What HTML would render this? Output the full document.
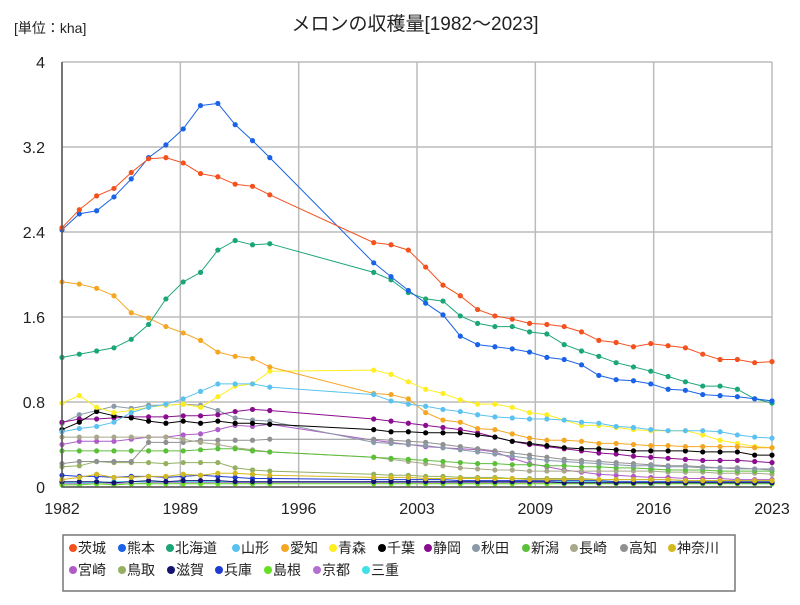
<!DOCTYPE html>
<html><head><meta charset="utf-8">
<style>
body{margin:0;background:#fff;}
svg text{font-family:"Liberation Sans","Noto Sans CJK JP",sans-serif;}
</style></head>
<body>
<svg id="chart" width="800" height="600" xmlns="http://www.w3.org/2000/svg">
<text x="14" y="33" font-size="14" fill="#222">[単位：kha]</text>
<text x="415" y="30" font-size="19" fill="#222" text-anchor="middle">メロンの収穫量[1982～2023]</text>
<g id="grid"></g><g id="series"></g><g id="axes"></g>
<rect x="63" y="535" width="672" height="56" fill="#fff" stroke="#777" stroke-width="1.5"/>
<g id="legend"></g>
</svg>
<script>
const years=[1982,1983,1984,1985,1986,1987,1988,1989,1990,1991,1992,1993,1994,2000,2001,2002,2003,2004,2005,2006,2007,2008,2009,2010,2011,2012,2013,2014,2015,2016,2017,2018,2019,2020,2021,2022,2023];
const yTicks=[0,0.8,1.6,2.4,3.2,4];
const yTickLabels=["0","0.8","1.6","2.4","3.2","4"];
const xTickLabels=["1982","1989","1996","2003","2009","2016","2023"];
const names=["茨城","熊本","北海道","山形","愛知","青森","千葉","静岡","秋田","新潟","長崎","高知","神奈川","宮崎","鳥取","滋賀","兵庫","島根","京都","三重"];
const colors=["#f4511e","#1a62e8","#1aa679","#5bc2f0","#f5a623","#ffee22","#000000","#8b0d8f","#8a9aa8","#5cbf3a","#a8a88a","#909090","#d4b820","#b05cc8","#94b060","#141470","#1f3ad0","#66e022","#b470d0","#40e0e8"];
const ibaraki=[2.44,2.61,2.74,2.81,2.96,3.09,3.10,3.05,2.95,2.92,2.85,2.83,2.75,2.30,2.28,2.23,2.07,1.90,1.80,1.67,1.61,1.58,1.54,1.53,1.51,1.46,1.38,1.36,1.32,1.35,1.33,1.31,1.25,1.20,1.20,1.17,1.18];
const kumamoto=[2.42,2.57,2.60,2.73,2.90,3.10,3.22,3.37,3.59,3.61,3.41,3.26,3.10,2.11,1.98,1.85,1.73,1.62,1.42,1.34,1.32,1.30,1.27,1.22,1.20,1.15,1.05,1.01,1.00,0.97,0.92,0.91,0.87,0.86,0.85,0.83,0.81];
const hokkaido=[1.22,1.25,1.28,1.31,1.39,1.53,1.77,1.93,2.02,2.23,2.32,2.28,2.29,2.02,1.95,1.83,1.77,1.75,1.61,1.54,1.51,1.51,1.46,1.44,1.34,1.28,1.23,1.17,1.13,1.09,1.04,0.99,0.95,0.95,0.92,0.83,0.79];
const yamagata=[0.52,0.55,0.57,0.61,0.70,0.75,0.78,0.83,0.90,0.97,0.97,0.97,0.94,0.87,0.81,0.78,0.76,0.73,0.71,0.68,0.66,0.65,0.64,0.64,0.63,0.61,0.60,0.57,0.56,0.54,0.53,0.53,0.53,0.52,0.49,0.47,0.46];
const aichi=[1.93,1.91,1.87,1.80,1.64,1.59,1.51,1.45,1.38,1.27,1.23,1.21,1.13,0.88,0.87,0.83,0.70,0.63,0.61,0.55,0.54,0.50,0.46,0.44,0.44,0.43,0.41,0.41,0.40,0.39,0.39,0.38,0.38,0.38,0.38,0.37,0.37];
const aomori=[0.79,0.86,0.75,0.70,0.72,0.75,0.77,0.78,0.75,0.85,0.95,0.97,1.09,1.10,1.06,0.99,0.92,0.88,0.82,0.78,0.78,0.75,0.70,0.68,0.63,0.58,0.58,0.56,0.54,0.53,0.53,0.53,0.49,0.44,0.41,0.38,0.37];
const chiba=[0.54,0.61,0.71,0.67,0.65,0.62,0.60,0.62,0.60,0.62,0.60,0.60,0.59,0.54,0.52,0.52,0.51,0.51,0.51,0.49,0.47,0.43,0.41,0.39,0.37,0.36,0.36,0.35,0.34,0.34,0.34,0.34,0.33,0.33,0.33,0.30,0.30];
const shizuoka=[0.61,0.64,0.64,0.65,0.66,0.66,0.66,0.67,0.67,0.68,0.71,0.73,0.72,0.64,0.62,0.60,0.58,0.56,0.54,0.51,0.47,0.43,0.40,0.38,0.36,0.34,0.32,0.31,0.29,0.28,0.27,0.26,0.25,0.25,0.25,0.24,0.23];
const akita=[0.60,0.68,0.72,0.76,0.74,0.77,0.77,0.78,0.77,0.72,0.65,0.63,0.62,0.42,0.41,0.40,0.39,0.37,0.35,0.33,0.31,0.29,0.27,0.25,0.24,0.23,0.22,0.21,0.20,0.20,0.19,0.19,0.18,0.18,0.17,0.17,0.17];
const niigata=[0.34,0.34,0.34,0.34,0.34,0.34,0.34,0.34,0.35,0.36,0.36,0.34,0.33,0.28,0.27,0.26,0.25,0.24,0.23,0.22,0.22,0.21,0.21,0.20,0.20,0.19,0.19,0.18,0.18,0.17,0.16,0.16,0.16,0.15,0.15,0.15,0.15];
const nagasaki=[0.47,0.47,0.47,0.47,0.47,0.47,0.47,0.45,0.42,0.40,0.37,0.35,0.33,0.28,0.26,0.24,0.22,0.20,0.18,0.17,0.16,0.16,0.15,0.15,0.15,0.15,0.15,0.15,0.15,0.15,0.14,0.14,0.14,0.13,0.13,0.13,0.12];
const kochi=[0.22,0.24,0.24,0.24,0.24,0.42,0.42,0.42,0.44,0.44,0.44,0.44,0.45,0.45,0.44,0.43,0.42,0.40,0.38,0.36,0.34,0.32,0.30,0.28,0.26,0.25,0.24,0.23,0.22,0.21,0.20,0.20,0.19,0.18,0.18,0.17,0.16];
const kanagawa=[0.07,0.09,0.12,0.09,0.09,0.10,0.10,0.12,0.11,0.13,0.13,0.12,0.11,0.09,0.09,0.09,0.08,0.08,0.08,0.08,0.08,0.08,0.07,0.07,0.07,0.07,0.07,0.07,0.07,0.07,0.07,0.06,0.06,0.06,0.06,0.06,0.06];
const miyazaki=[0.40,0.43,0.43,0.43,0.45,0.47,0.47,0.49,0.50,0.54,0.58,0.57,0.59,0.44,0.42,0.40,0.38,0.37,0.36,0.35,0.33,0.27,0.22,0.19,0.16,0.14,0.12,0.11,0.10,0.09,0.09,0.08,0.08,0.08,0.07,0.07,0.07];
const tottori=[0.19,0.20,0.24,0.23,0.23,0.23,0.22,0.23,0.23,0.23,0.18,0.16,0.15,0.12,0.11,0.11,0.10,0.10,0.09,0.09,0.09,0.08,0.08,0.08,0.08,0.08,0.07,0.07,0.07,0.07,0.07,0.06,0.06,0.06,0.06,0.06,0.06];
const shiga=[0.05,0.05,0.05,0.04,0.05,0.06,0.05,0.06,0.06,0.06,0.05,0.05,0.05,0.05,0.05,0.05,0.05,0.05,0.05,0.05,0.05,0.05,0.05,0.05,0.04,0.04,0.04,0.04,0.04,0.04,0.04,0.04,0.04,0.04,0.04,0.04,0.04];
const hyogo=[0.11,0.10,0.10,0.09,0.10,0.10,0.09,0.10,0.11,0.10,0.09,0.08,0.08,0.07,0.07,0.07,0.07,0.07,0.06,0.06,0.06,0.06,0.06,0.06,0.06,0.06,0.06,0.05,0.05,0.05,0.05,0.05,0.05,0.05,0.05,0.05,0.05];
const shimane=[0.02,0.02,0.03,0.02,0.03,0.03,0.03,0.03,0.03,0.03,0.03,0.03,0.03,0.03,0.03,0.03,0.03,0.03,0.03,0.03,0.03,0.03,0.03,0.03,0.03,0.03,0.03,0.03,0.03,0.03,0.03,0.03,0.03,0.03,0.03,0.03,0.03];
const kyoto=[0.03,0.03,0.03,0.03,0.03,0.04,0.04,0.04,0.04,0.04,0.04,0.04,0.04,0.04,0.04,0.04,0.04,0.04,0.04,0.04,0.04,0.04,0.04,0.04,0.04,0.04,0.04,0.04,0.04,0.04,0.04,0.04,0.04,0.04,0.04,0.04,0.04];
const mie=[0.04,0.04,0.04,0.05,0.05,0.05,0.05,0.05,0.05,0.05,0.05,0.05,0.05,0.05,0.05,0.05,0.05,0.05,0.05,0.05,0.05,0.05,0.05,0.05,0.05,0.05,0.05,0.05,0.05,0.05,0.05,0.05,0.05,0.05,0.05,0.05,0.05];
const seriesValues=[ibaraki,kumamoto,hokkaido,yamagata,aichi,aomori,chiba,shizuoka,akita,niigata,nagasaki,kochi,kanagawa,miyazaki,tottori,shiga,hyogo,shimane,kyoto,mie];

const NS="http://www.w3.org/2000/svg";
const X0=62,X1=772,Y0=487,Y1=62,YMIN=1982,YMAX=2023,VMAX=4;
function xScale(yr){return X0+(yr-YMIN)/(YMAX-YMIN)*(X1-X0);}
function yScale(v){return Y0-v/VMAX*(Y0-Y1);}
function mk(tag,attrs,parent){const e=document.createElementNS(NS,tag);for(const k in attrs)e.setAttribute(k,attrs[k]);parent.appendChild(e);return e;}
const grid=document.getElementById('grid'),axes=document.getElementById('axes'),sg=document.getElementById('series'),lg=document.getElementById('legend');
yTicks.forEach((v,i)=>{
  const y=yScale(v);
  const l=mk('line',{x1:X0,x2:X1,y1:y,y2:y,stroke:'#bbb','stroke-width':1.5},grid);
  
  
  const t=mk('text',{x:45,y:y+6,'font-size':16,'text-anchor':'end',fill:'#222'},axes);
  t.textContent=yTickLabels[i];
  
  
});
xTickLabels.forEach((lab,i)=>{
  const x=X0+i*(X1-X0)/(xTickLabels.length-1);
  const l=mk('line',{x1:x,x2:x,y1:Y1,y2:Y0,stroke:'#bbb','stroke-width':1.5},grid);
  
  
  const t=mk('text',{x:x,y:514,'font-size':16,'text-anchor':'middle',fill:'#222'},axes);
  t.textContent=lab;
  
  
});
const ax=mk('path',{d:`M${X0},${Y1}V${Y0}H${X1}`,fill:'none',stroke:'#555','stroke-width':1.5},axes);


for(let s=seriesValues.length-1;s>=0;s--){
  const vals=seriesValues[s];
  const g=mk('g',{},sg);
  
  
  let d='';
  years.forEach((yr,i)=>{if(vals[i]==null)return;d+=(d?'L':'M')+xScale(yr).toFixed(1)+','+yScale(vals[i]).toFixed(1);});
  mk('path',{d:d,fill:'none',stroke:colors[s],'stroke-width':1},g);
  years.forEach((yr,i)=>{
    if(vals[i]==null)return;
    const c=mk('circle',{cx:xScale(yr),cy:yScale(vals[i]),r:2.6,fill:colors[s]},g);
    
    
  });
}
const legendX=[73,122,170,236,285,333,382,428,476,526,574,624,672,73,122,171,219,268,317,366];
names.forEach((n,i)=>{
  const row=i<13?0:1;
  const y=row?575:553;
  const g=mk('g',{},lg);
  
  
  mk('circle',{cx:legendX[i],cy:y-5,r:4,fill:colors[i]},g);
  const t=mk('text',{x:legendX[i]+5,y:y,'font-size':14,fill:'#222'},g);
  t.textContent=n;
});
</script>
</body></html>
